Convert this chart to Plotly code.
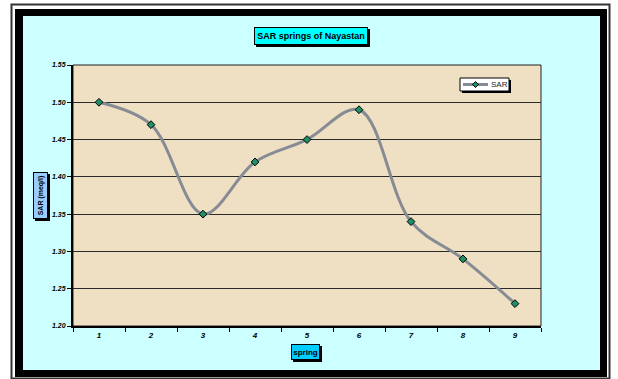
import plotly.graph_objects as go

# SAR values measured at each spring
springs = ["1", "2", "3", "4", "5", "6", "7", "8", "9"]
sar = [1.50, 1.47, 1.35, 1.42, 1.45, 1.49, 1.34, 1.29, 1.23]
y_ticks = [1.20, 1.25, 1.30, 1.35, 1.40, 1.45, 1.50, 1.55]

W, H = 618, 379
L, R, T, B = 73, 77, 65, 53
PW, PH = W - L - R, H - T - B

LINE_COLOR = "#868b94"
MARKER_COLOR = "#1f8f66"


def px(x):
    return (x - L) / PW


def py(y):
    return (H - B - y) / PH


FONT = "Liberation Sans, Arial, sans-serif"

fig = go.Figure()
fig.add_trace(go.Scatter(
    x=springs, y=sar, name="SAR", mode="lines+markers", showlegend=False,
    line=dict(color=LINE_COLOR, width=3, shape="spline", smoothing=1.0),
    marker=dict(symbol="diamond", size=6, color=MARKER_COLOR,
                line=dict(color="#000000", width=1)),
))


def rect(x0, y0, x1, y1, fill, line_w=0, line_c="#000000", layer="below"):
    return dict(type="rect", xref="paper", yref="paper", layer=layer,
                x0=px(x0), x1=px(x1), y0=py(y1), y1=py(y0),
                line=dict(color=line_c, width=line_w), fillcolor=fill)


shapes = [
    rect(11.5, 4.5, 609.5, 378.5, "#ffffff", 2, "#333333"),   # outer thin frame
    rect(15, 9, 607, 377, "#000000"),                          # thick black border
    rect(23, 16, 600, 370, "#ccffff"),                         # chart area
    rect(L, T, W - R, H - B, "#efe0c3", 1, "#222222"),         # plot area
]

ann = []


def boxed(text, cx, cy, w, h, bg, size, angle=0):
    # outer box is (w + 4) x (h + 4): 1px border + 1px padding on each side
    ow, oh = (w + 4, h + 4) if angle == 0 else (h + 4, w + 4)
    shapes.append(rect(cx - ow / 2 + 2, cy - oh / 2 + 2, cx + ow / 2 + 2, cy + oh / 2 + 2,
                       "#000000", layer="above"))
    ann.append(dict(text=text, xref="paper", yref="paper", x=px(cx), y=py(cy),
                    showarrow=False, textangle=angle, width=w, height=h,
                    borderpad=1, borderwidth=1, bordercolor="#000000", bgcolor=bg,
                    xanchor="center", yanchor="middle", align="center", valign="middle",
                    font=dict(family=FONT, size=size, color="#000000", weight="bold")))


boxed("SAR springs of Nayastan", 311, 36, 110, 14, "#00ffff", 9)
boxed("SAR (meq/l)", 40.5, 195.5, 43, 11, "#99ccff", 7, angle=-90)
boxed("spring", 305.5, 352, 25, 12, "#00ccff", 8)

# legend box
shapes += [
    rect(462, 80, 511, 93, "#000000", layer="above"),
    rect(460, 78, 509, 91, "#ffffff", 1, "#000000", layer="above"),
    dict(type="line", xref="paper", yref="paper", layer="above",
         x0=px(463), x1=px(488), y0=py(84.5), y1=py(84.5),
         line=dict(color=LINE_COLOR, width=3)),
    dict(type="path", xref="paper", yref="paper", layer="above",
         path=(f"M {px(475.5)} {py(81.5)} L {px(478.5)} {py(84.5)} "
               f"L {px(475.5)} {py(87.5)} L {px(472.5)} {py(84.5)} Z"),
         fillcolor=MARKER_COLOR, line=dict(color="#000000", width=1)),
]
ann.append(dict(text="SAR", xref="paper", yref="paper", x=px(488.5), y=py(84.5),
                showarrow=False, xanchor="left", yanchor="middle",
                font=dict(family=FONT, size=8, color="#222222")))

fig.update_layout(
    width=W, height=H,
    margin=dict(l=L, r=R, t=T, b=B),
    paper_bgcolor="#ffffff", plot_bgcolor="rgba(0,0,0,0)",
    shapes=shapes, annotations=ann,
    showlegend=False,
)
fig.update_xaxes(
    type="category", range=[-0.5, 8.5], showgrid=False,
    showline=True, linecolor="#000000", linewidth=2,
    ticks="outside", tickson="boundaries", ticklen=4, tickcolor="#000000",
    tickfont=dict(family=FONT, size=8, color="#000000", style="italic", weight="bold"),
)
fig.update_yaxes(
    range=[1.20, 1.55], tickvals=y_ticks, ticktext=[f"{v:.2f}" for v in y_ticks],
    showgrid=True, gridcolor="#2a2a2a", gridwidth=1, zeroline=False,
    showline=True, linecolor="#000000", linewidth=2,
    ticks="outside", ticklen=4, tickcolor="#000000",
    tickfont=dict(family=FONT, size=7, color="#000000", style="italic", weight="bold"),
)

fig.write_html("out.html")
